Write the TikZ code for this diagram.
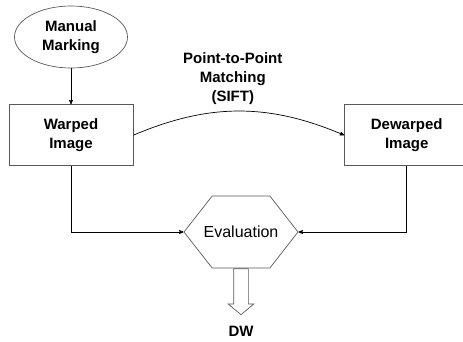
\documentclass[tikz,border=0pt]{standalone}
\usepackage{fontspec}
\setmainfont{Liberation Sans}
\usetikzlibrary{positioning, arrows, shapes.geometric, shapes.symbols, shapes.arrows}
\tikzset{
  >=stealth',
  every node/.style={font=\bfseries\fontsize{15}{19}\selectfont, align=center},
  markoval/.style={ellipse, draw=black!65, minimum width=113pt, minimum height=62pt, inner sep=0pt},
  box/.style={rectangle, draw=black!65, minimum width=124pt, minimum height=61pt, inner sep=0pt},
  evalbox/.style={signal, signal to=west and east, signal pointer angle=104, draw=black!65,
    minimum height=72pt, inner ysep=0pt, inner xsep=-8.5pt,
    font=\fontsize{16}{19}\selectfont},
  hollow/.style={single arrow, draw=black!65, rotate=-90, minimum height=46pt,
    minimum width=25pt, single arrow head extend=5.5pt, single arrow tip angle=100,
    inner xsep=0pt, inner ysep=7pt},
}

\begin{document}
\begin{tikzpicture}[x=1pt, y=-1pt, line width=0.7pt]
      \useasboundingbox (0,0) rectangle (463,341);
      \node[markoval] (marking) at (71,37) {Manual\\Marking};
      \node[box, below=36pt of marking] (warped) {Warped\\Image};
      \node[box, right=211pt of warped] (dewarped) {Dewarped\\Image};
      \node[evalbox] (eval) at (241,232) {Evaluation};
      \node[hollow, anchor=tail] (out) at (eval.south) {};
      \node[below=7pt of out.tip] (dw) {DW};
      \draw[->] (marking) -- (warped);
      \draw[->] (warped.east) to[bend left=23] node[above=3pt, pos=0.47] {Point-to-Point\\Matching\\(SIFT)} (dewarped.west);
      \draw[->] (warped) |- (eval);
      \draw[->] (dewarped) |- (eval);
    \end{tikzpicture}
\end{document}
